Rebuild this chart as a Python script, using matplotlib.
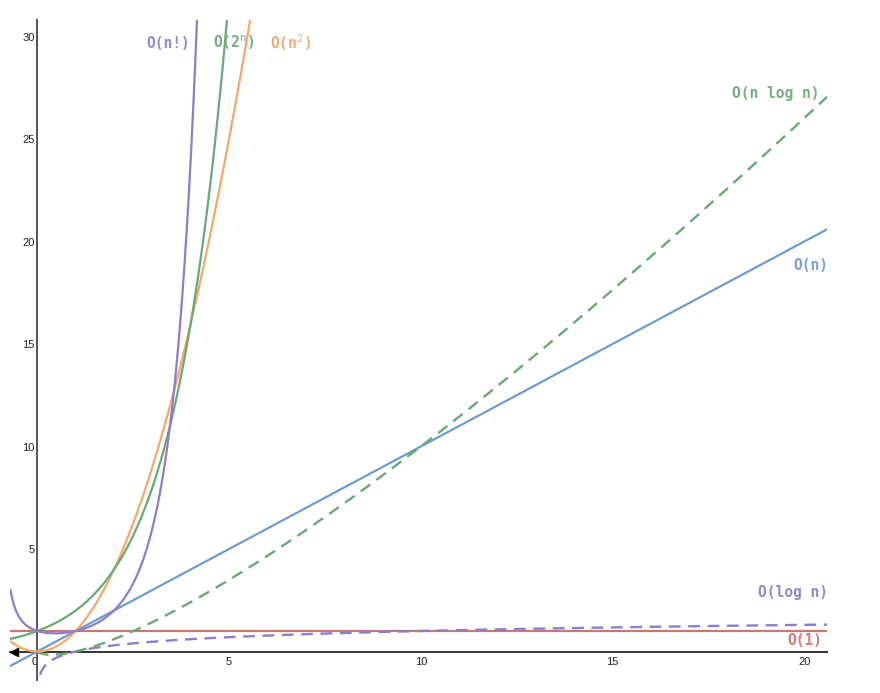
import math
import numpy as np
import matplotlib
matplotlib.use("Agg")
import matplotlib.pyplot as plt

plt.rcParams["mathtext.fontset"] = "dejavusans"

# ---- data ----
x_min, x_max = -0.7, 20.6
y_min, y_max = -1.4, 30.8
x_ticks = [0, 5, 10, 15, 20]
y_ticks = [5, 10, 15, 20, 25, 30]
series_names = ["O(1)", "O(log n)", "O(n)", "O(n log n)", "O(n²)", "O(2ⁿ)", "O(n!)"]
label_texts = ["O(1)", "O(log n)", "O(n)", "O(n log n)",
               r"O(n$^{\mathtt{2}}$)", r"O(2$^{\mathtt{n}}$)", "O(n!)"]
label_x = [20.02, 19.71, 20.18, 19.26, 6.60, 5.12, 3.41]
label_y = [0.56, 2.90, 18.85, 27.24, 29.68, 29.68, 29.68]

colors = {
    "O(1)": "#d8706e",
    "O(log n)": "#8f7ccb",
    "O(n)": "#6f9ccf",
    "O(n log n)": "#6aa878",
    "O(n²)": "#f6a86a",
    "O(2ⁿ)": "#6aa878",
    "O(n!)": "#8f7ccb",
}
text_colors = {
    "O(1)": "#d47a78",
    "O(log n)": "#9787cc",
    "O(n)": "#7ba2cf",
    "O(n log n)": "#78ad82",
    "O(n²)": "#f4a975",
    "O(2ⁿ)": "#78ad82",
    "O(n!)": "#9787cc",
}
dashed = {"O(log n)", "O(n log n)"}

xs = np.linspace(x_min, x_max, 4000)
xp = np.linspace(1e-4, x_max, 4000)

def curve(name):
    if name == "O(1)":
        return xs, np.ones_like(xs)
    if name == "O(log n)":
        return xp, np.log10(xp)
    if name == "O(n)":
        return xs, xs
    if name == "O(n log n)":
        return xp, xp * np.log10(xp)
    if name == "O(n²)":
        return xs, xs ** 2
    if name == "O(2ⁿ)":
        return xs, 2.0 ** xs
    if name == "O(n!)":
        return xs, np.array([math.gamma(v + 1) for v in xs])

# ---- figure ----
W, H = 880, 693
fig = plt.figure(figsize=(W / 100, H / 100), dpi=100)
# pixel mapping: x=0 at 37.3px, 38.35 px/unit ; y=0 at 651.5px, 20.5 px/unit
left_px = 37.3 + x_min * 38.35
right_px = 37.3 + x_max * 38.35
top_px = 651.5 - y_max * 20.5
bot_px = 651.5 - y_min * 20.5
ax = fig.add_axes([left_px / W, 1 - bot_px / H, (right_px - left_px) / W, (bot_px - top_px) / H])
ax.set_xlim(x_min, x_max)
ax.set_ylim(y_min, y_max)

for name in series_names:
    cx, cy = curve(name)
    if name in dashed:
        ax.plot(cx, cy, color=colors[name], lw=1.7, dashes=(5, 3.2), zorder=3)
    else:
        ax.plot(cx, cy, color=colors[name], lw=1.6, zorder=3)

for name, t, lx, ly in zip(series_names, label_texts, label_x, label_y):
    ax.text(lx, ly, t, color=text_colors[name], fontsize=10.5, family="DejaVu Sans Mono",
            fontweight="bold", ha="center", va="center", zorder=5)

for s in ["top", "right"]:
    ax.spines[s].set_visible(False)
ax.spines["left"].set_position(("data", 0))
ax.spines["bottom"].set_position(("data", 0))
ax.spines["left"].set_color("#555555")
ax.spines["bottom"].set_color("#333333")
ax.spines["left"].set_linewidth(1.4)
ax.spines["bottom"].set_linewidth(1.4)
ax.spines["left"].set_zorder(2)
ax.spines["bottom"].set_zorder(2)

ax.set_xticks(x_ticks)
ax.set_yticks(y_ticks)
ax.tick_params(axis="both", length=0, labelsize=8, labelcolor="#222222")
ax.tick_params(axis="x", pad=4)
ax.tick_params(axis="y", pad=2)
for lab in ax.get_xticklabels() + ax.get_yticklabels():
    lab.set_family("Liberation Sans")
ax.get_xticklabels()[0].set_horizontalalignment("right")

ax.plot([x_min + 0.08], [0], marker="<", color="black", ms=6, clip_on=False, zorder=4)

fig.savefig("out.png", dpi=100, facecolor="white")
